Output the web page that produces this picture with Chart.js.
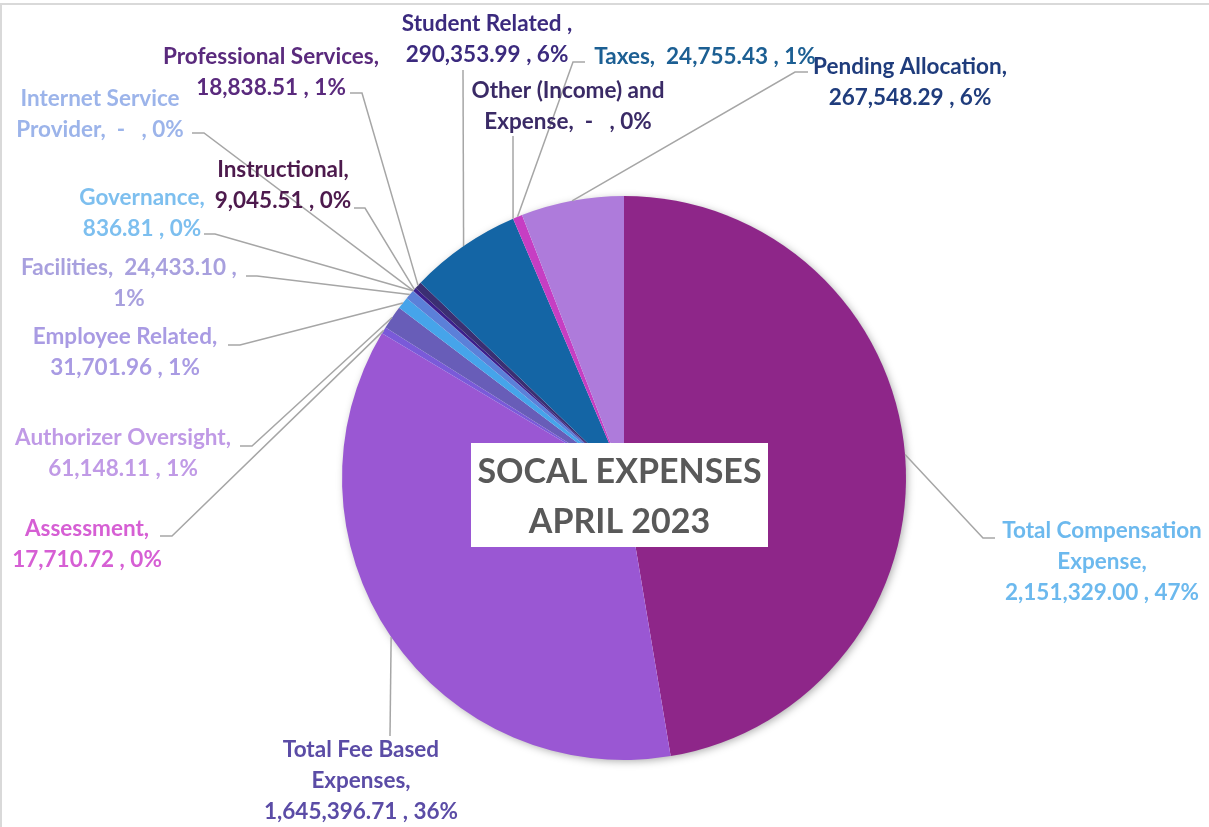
<!DOCTYPE html>
<html><head><meta charset="utf-8">
<script src="https://cdn.jsdelivr.net/npm/chart.js@4.4.1/dist/chart.umd.min.js"></script>
<style>html,body{margin:0;padding:0;background:#fff;overflow:hidden}#wrap{position:relative;width:1209px;height:827px}</style>
</head><body><div id="wrap"><canvas id="c" width="1209" height="827"></canvas></div>
<script>
// ---- data ----
const categories = ["Total Compensation Expense","Total Fee Based Expenses","Assessment","Authorizer Oversight","Employee Related","Facilities","Governance","Internet Service Provider","Instructional","Professional Services","Student Related","Other (Income) and Expense","Taxes","Pending Allocation"];
const values = [2151329.00,1645396.71,17710.72,61148.11,31701.96,24433.10,836.81,0,9045.51,18838.51,290353.99,0,24755.43,267548.29];
const percentLabels = ["47%","36%","0%","1%","1%","1%","0%","0%","0%","1%","6%","0%","1%","6%"];
const sliceColors = ["#8e2689","#9a57d3","#7a5ad9","#685db8","#46a4ea","#5b80d9","#5a6fd0","#8aa0e0","#3c1f8c","#3b2f72","#1465a5","#2d2f6e","#c63ec3","#ae7bdb"];
const labelColors = ["#6cb9ee","#5b4ca6","#d65fd4","#c09ae6","#a99be3","#a8a0de","#7dbfef","#9cb4ea","#4d1a4d","#5a2a7d","#3b2a7e","#3a2a66","#1c5f93","#1f3c7c"];
const titleLines = ["SOCAL EXPENSES","APRIL 2023"];

// ---- label layout (text line breaks, positions, leader stubs) ----
const labelLayout = [
 {lines:["Total Compensation","Expense,","{v} , {p}"], x:1102, y:531, a:[983,538], s:[995,538]},
 {lines:["Total Fee Based","Expenses,","{v} , {p}"], x:361, y:750, a:[390,736], s:[390,736]},
 {lines:["Assessment,","{v} , {p}"], x:87, y:529, a:[172,536], s:[160,536]},
 {lines:["Authorizer Oversight,","{v} , {p}"], x:123, y:438, a:[252,446], s:[240,446]},
 {lines:["Employee Related,","{v} , {p}"], x:125, y:337, a:[240,345], s:[228,345]},
 {lines:["Facilities,  {v} ,","{p}"], x:129, y:268, a:[257,276], s:[246,276]},
 {lines:["Governance,","{v} , {p}"], x:142, y:198, a:[215,234], s:[204,234]},
 {lines:["Internet Service","Provider,  {v}   , {p}"], x:100, y:99, a:[204,133], s:[192,133]},
 {lines:["Instructional,","{v} , {p}"], x:283, y:170, a:[365,208], s:[354,208]},
 {lines:["Professional Services,","{v} , {p}"], x:271, y:57, a:[362,93], s:[350,93]},
 {lines:["Student Related ,","{v} , {p}"], x:487, y:24, a:[463,70], s:[463,70]},
 {lines:["Other (Income) and","Expense,  {v}   , {p}"], x:568, y:91, a:[513,136], s:[513,136]},
 {lines:["Taxes,  {v} , {p}"], x:705, y:57, a:[573,62], s:[585,62]},
 {lines:["Pending Allocation,","{v} , {p}"], x:910, y:67, a:[795,72], s:[808,72]}
];
const LABEL_FONT = "bold 22.5px Lato";
const LINE_H = 31;

function fmt(v){ return v===0 ? "-" : v.toLocaleString("en-US",{minimumFractionDigits:2,maximumFractionDigits:2}); }

const decor = {
 id:"decor",
 beforeDraw(chart){
  const c=chart.ctx; c.save();
  c.fillStyle="#fff"; c.fillRect(0,0,chart.width,chart.height);
  c.fillStyle="#d9d9d9"; c.fillRect(0,3,chart.width,2); c.fillRect(0,3,2,chart.height);
  c.restore();
 },
 beforeDatasetsDraw(chart){
  const arc=chart.getDatasetMeta(0).data[0]; if(!arc) return;
  const p=arc.getProps(["x","y","outerRadius"],true);
  const c=chart.ctx; c.save();
  c.shadowColor="rgba(0,0,0,0.35)"; c.shadowBlur=9; c.shadowOffsetX=2; c.shadowOffsetY=2;
  c.fillStyle="#ffffff"; c.beginPath(); c.arc(p.x,p.y,p.outerRadius-1,0,Math.PI*2); c.fill();
  c.restore();
 },
 afterDatasetsDraw(chart){
  const meta=chart.getDatasetMeta(0); const c=chart.ctx; c.save();
  c.strokeStyle="#a6a6a6"; c.lineWidth=1.5;
  meta.data.forEach((arc,i)=>{
   const L=labelLayout[i];
   const p=arc.getProps(["x","y","startAngle","endAngle","outerRadius"],true);
   const m=(p.startAngle+p.endAngle)/2;
   const px=p.x+Math.cos(m)*p.outerRadius, py=p.y+Math.sin(m)*p.outerRadius;
   c.beginPath(); c.moveTo(px,py); c.lineTo(L.a[0],L.a[1]); c.lineTo(L.s[0],L.s[1]); c.stroke();
  });
  c.font=LABEL_FONT; c.textAlign="center"; c.textBaseline="middle";
  meta.data.forEach((arc,i)=>{
   const L=labelLayout[i]; c.fillStyle=labelColors[i];
   L.lines.forEach((t,k)=>{
    const s=t.replace("{v}",fmt(values[i])).replace("{p}",percentLabels[i]);
    c.fillText(s,L.x,L.y+k*LINE_H);
   });
  });
  const a0=meta.data[0].getProps(["x","y"],true);
  const bx=a0.x-153, by=a0.y-35, bw=297, bh=104;
  c.fillStyle="#fff"; c.fillRect(bx,by,bw,bh);
  c.fillStyle="#595959"; c.font="bold 34px Lato";
  c.fillText(titleLines[0],bx+bw/2,by+29);
  c.fillText(titleLines[1],bx+bw/2,by+79);
  c.restore();
 }
};

new Chart(document.getElementById("c"),{
 type:"pie",
 data:{labels:categories,datasets:[{data:values,backgroundColor:sliceColors,borderWidth:0}]},
 options:{responsive:false,animation:false,
  layout:{padding:{left:342,right:303,top:196,bottom:67}},
  plugins:{legend:{display:false},tooltip:{enabled:false}}},
 plugins:[decor]
});
</script></body></html>
